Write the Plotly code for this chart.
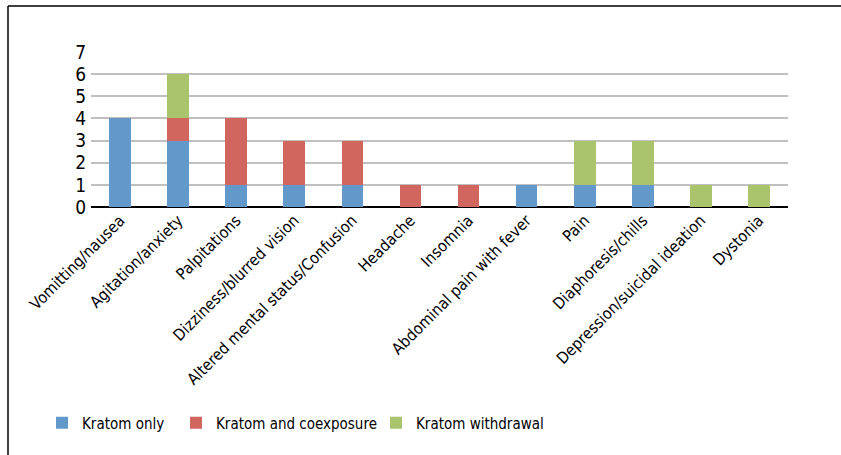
import plotly.graph_objects as go

categories = ["Vomitting/nausea", "Agitation/anxiety", "Palpitations", "Dizziness/blurred vision",
              "Altered mental status/Confusion", "Headache", "Insomnia", "Abdominal pain with fever",
              "Pain", "Diaphoresis/chills", "Depression/suicidal ideation", "Dystonia"]
kratom_only = [4, 3, 1, 1, 1, 0, 0, 1, 1, 1, 0, 0]
kratom_coexposure = [0, 1, 3, 2, 2, 1, 1, 0, 0, 0, 0, 0]
kratom_withdrawal = [0, 2, 0, 0, 0, 0, 0, 0, 2, 2, 1, 1]
y_ticks = [0, 1, 2, 3, 4, 5, 6, 7]

FONT = "DejaVu Sans Condensed, Liberation Sans Narrow, Arial Narrow, sans-serif"

fig = go.Figure()
series = [
    ("Kratom only", kratom_only, "#6399CA", "legend"),
    ("Kratom and coexposure", kratom_coexposure, "#D1665E", "legend2"),
    ("Kratom withdrawal", kratom_withdrawal, "#A9C46C", "legend3"),
]
for name, vals, color, lg in series:
    fig.add_trace(go.Bar(x=categories, y=vals, name=name, marker=dict(color=color, line=dict(width=0)),
                         legend=lg, showlegend=True))

W, H = 841, 455
L, R, T, B = 91, 788, 52, 207
pw, ph = R - L, B - T

def px(x):
    return (x - L) / pw

def py(y):
    return (B - y) / ph

leg_common = dict(orientation="h", yanchor="middle", xanchor="left", xref="container", yref="container",
                  y=1 - 423 / H, font=dict(family=FONT, size=15, color="#000"),
                  bgcolor="rgba(0,0,0,0)", visible=True)

fig.update_layout(
    width=W, height=H,
    margin=dict(l=L, r=W - R, t=T, b=H - B),
    paper_bgcolor="white", plot_bgcolor="white",
    barmode="stack", bargap=0.627,
    showlegend=True,
    font=dict(family=FONT, color="#000"),
    legend=dict(x=42 / W, **leg_common),
    legend2=dict(x=176 / W, **leg_common),
    legend3=dict(x=376 / W, **leg_common),
    xaxis=dict(tickangle=-45, tickfont=dict(family=FONT, size=16, color="#000"),
               showgrid=False, showline=False, ticks="", fixedrange=True),
    yaxis=dict(range=[0, 7], tickvals=y_ticks, tickfont=dict(family=FONT, size=19, color="#000"),
               showgrid=True, gridcolor="#C0C0C0", gridwidth=1.5, zeroline=True,
               zerolinecolor="#000", zerolinewidth=1.5, showline=False, ticks="", ticklabelstandoff=4),
    shapes=[
        dict(type="line", xref="paper", yref="paper", x0=px(8), x1=px(845), y0=py(6), y1=py(6),
             line=dict(color="#000", width=1.5)),
        dict(type="line", xref="paper", yref="paper", x0=px(8), x1=px(8), y0=py(6), y1=py(460),
             line=dict(color="#000", width=1.5)),
    ],
)

fig.write_html("out.html")
